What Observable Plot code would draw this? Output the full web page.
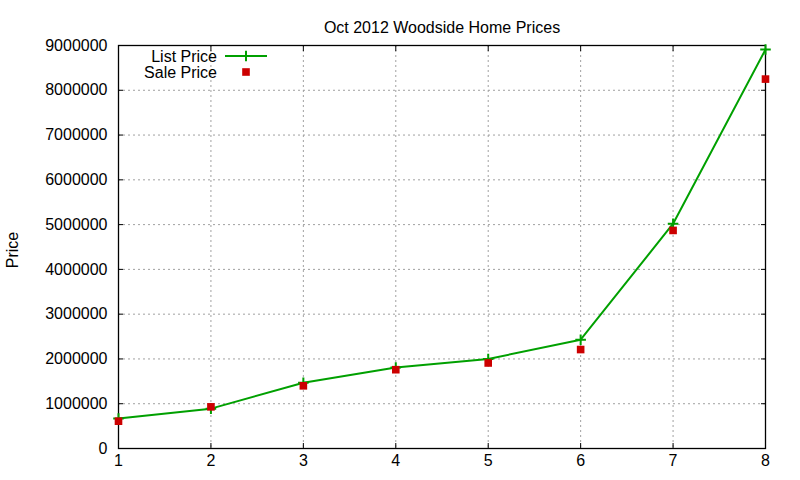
<!DOCTYPE html>
<html><head><meta charset="utf-8">
<script src="https://cdn.jsdelivr.net/npm/d3@7"></script>
<script src="https://cdn.jsdelivr.net/npm/@observablehq/plot@0.6"></script>
<style>
body{margin:0;background:#fff;}
#chart svg{font-family:"Liberation Sans",Arial,sans-serif;}
</style>
</head><body><div id="chart"></div>
<script>
const title = "Oct 2012 Woodside Home Prices";
const yLabel = "Price";
const legendLabels = ["List Price", "Sale Price"];
const houses = [1, 2, 3, 4, 5, 6, 7, 8];
const listPrice = [670000, 890000, 1470000, 1810000, 2000000, 2430000, 5020000, 8910000];
const salePrice = [610000, 930000, 1400000, 1760000, 1910000, 2210000, 4870000, 8250000];
const xTicks = [1, 2, 3, 4, 5, 6, 7, 8];
const yTicks = [0, 1000000, 2000000, 3000000, 4000000, 5000000, 6000000, 7000000, 8000000, 9000000];

const rows = houses.map((h, i) => ({house: h, list: listPrice[i], sale: salePrice[i]}));

const green = "#00a000", red = "#cc0000", gridColor = "#a0a0a0";
const mL = 118, mR = 35, mT = 45, mB = 32;
const font = "Liberation Sans, Arial, sans-serif";

const plot = Plot.plot({
  width: 800, height: 480,
  marginLeft: mL, marginRight: mR, marginTop: mT, marginBottom: mB,
  style: {fontFamily: font, fontSize: "16px", color: "#000", background: "#fff", overflow: "visible"},
  x: {domain: [1, 8]},
  y: {domain: [0, 9000000]},
  marks: [
    Plot.gridX(xTicks, {stroke: gridColor, strokeOpacity: 1, strokeDasharray: "2,3"}),
    Plot.gridY(yTicks, {stroke: gridColor, strokeOpacity: 1, strokeDasharray: "2,3"}),
    Plot.axisX(xTicks, {anchor: "bottom", tickSize: -5, tickPadding: 11, tickFormat: d => String(d), label: null, fontSize: 16}),
    Plot.axisX(xTicks, {anchor: "top", tickSize: -5, tickFormat: () => "", label: null}),
    Plot.axisY(yTicks, {anchor: "left", tickSize: -5, tickPadding: 16, tickFormat: d => String(d), label: null, fontSize: 16}),
    Plot.axisY(yTicks, {anchor: "right", tickSize: -5, tickFormat: () => "", label: null}),
    Plot.frame({stroke: "#000", strokeWidth: 1.3}),
    Plot.line(rows, {x: "house", y: "list", stroke: green, strokeWidth: 2}),
    Plot.dot(rows, {x: "house", y: "list", symbol: "plus", stroke: green, strokeWidth: 2, r: 3.5}),
    Plot.dot(rows, {x: "house", y: "sale", symbol: "square", fill: red, stroke: "none", r: 4.3}),
    Plot.text([title], {frameAnchor: "top", dy: -24, fontSize: 16, text: d => d}),
    Plot.text([yLabel], {frameAnchor: "left", textAnchor: "middle", dx: -106, dy: 3, rotate: -90, fontSize: 16, text: d => d})
  ]
});

document.getElementById("chart").appendChild(plot);

// Legend (gnuplot style, inside the top-left of the frame)
const svg = d3.select(plot);
const lg = svg.append("g").attr("font-family", font).attr("font-size", 16);
const textRight = mL + 99, sampleX0 = mL + 107, sampleX1 = mL + 149, rowY = [mT + 11, mT + 27];
lg.append("text").attr("x", textRight).attr("y", rowY[0]).attr("dy", "0.35em")
  .attr("text-anchor", "end").attr("fill", "#000").text(legendLabels[0]);
lg.append("line").attr("x1", sampleX0).attr("x2", sampleX1).attr("y1", rowY[0]).attr("y2", rowY[0])
  .attr("stroke", green).attr("stroke-width", 2);
const mid = (sampleX0 + sampleX1) / 2;
lg.append("path").attr("d", d3.symbol(d3.symbolPlus, Math.PI * 3.5 * 3.5)())
  .attr("transform", `translate(${mid},${rowY[0]})`).attr("fill", "none").attr("stroke", green).attr("stroke-width", 2);
lg.append("text").attr("x", textRight).attr("y", rowY[1]).attr("dy", "0.35em")
  .attr("text-anchor", "end").attr("fill", "#000").text(legendLabels[1]);
lg.append("path").attr("d", d3.symbol(d3.symbolSquare, Math.PI * 4.3 * 4.3)())
  .attr("transform", `translate(${mid},${rowY[1]})`).attr("fill", red);
</script>
</body></html>
